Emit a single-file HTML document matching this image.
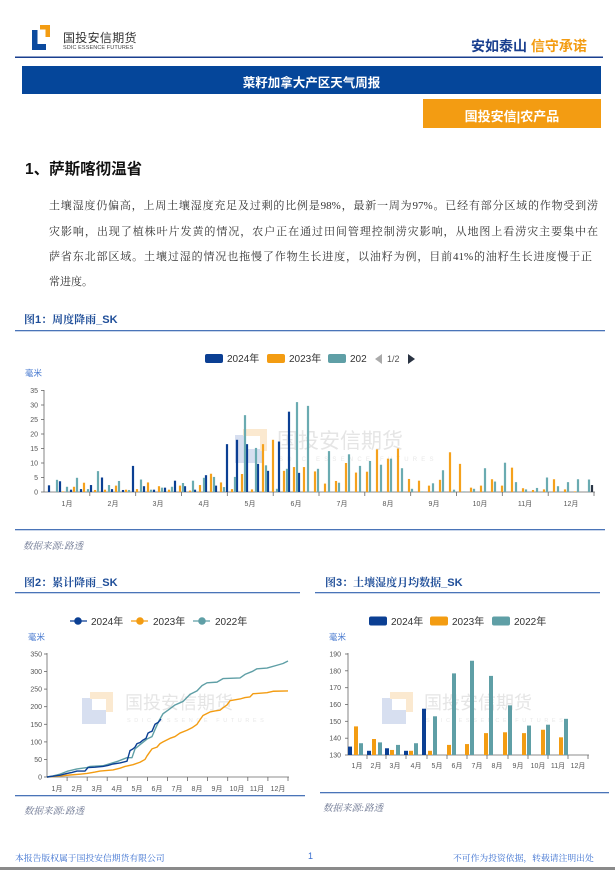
<!DOCTYPE html>
<html><head><meta charset="utf-8">
<style>
*{margin:0;padding:0;box-sizing:border-box}
html,body{width:615px;height:870px;background:#fff;overflow:hidden}
body{position:relative;font-family:"Liberation Sans","Noto Sans CJK SC",sans-serif}
.a{position:absolute;white-space:nowrap}
.p{position:absolute;left:49px;font-family:"Liberation Serif","Noto Serif CJK SC",serif;font-size:11px;color:#333;line-height:16px;white-space:nowrap}
.j{text-align:justify;text-align-last:justify}
</style></head><body>

<!-- header -->
<div class="a" style="left:63px;top:29px;font-size:12px;color:#333;letter-spacing:0.3px">国投安信期货</div>
<div class="a" style="left:63px;top:45px;font-size:5.5px;color:#444;letter-spacing:0.1px">SDIC ESSENCE FUTURES</div>
<div class="a" style="left:471px;top:36px;font-size:14px;font-weight:bold;color:#1a3f8f">安如泰山 <span style="color:#f39c12">信守承诺</span></div>
<div class="a" style="left:22px;top:66px;width:579px;height:28px;background:#05469a"></div>
<div class="a" style="left:22px;top:72px;width:579px;text-align:center;font-size:12.5px;font-weight:bold;color:#fff">菜籽加拿大产区天气周报</div>
<div class="a" style="left:423px;top:99px;width:178px;height:29px;background:#f39c12"></div>
<div class="a" style="left:423px;top:106px;width:178px;text-align:center;font-size:13px;font-weight:bold;color:#fff">国投安信|农产品</div>

<div class="a" style="left:25px;top:157px;font-size:15.5px;font-weight:bold;color:#111">1、萨斯喀彻温省</div>

<div class="p j" style="top:198px;width:549px">土壤湿度仍偏高，上周土壤湿度充足及过剩的比例是98%，最新一周为97%。已经有部分区域的作物受到涝</div>
<div class="p j" style="top:224px;width:549px">灾影响，出现了植株叶片发黄的情况，农户正在通过田间管理控制涝灾影响，从地图上看涝灾主要集中在</div>
<div class="p j" style="top:249px;width:543px">萨省东北部区域。土壤过湿的情况也拖慢了作物生长进度，以油籽为例，目前41%的油籽生长进度慢于正</div>
<div class="p" style="top:274px">常进度。</div>

<div class="a" style="left:24px;top:311px;font-size:11px;font-weight:bold;color:#1f4e99;font-family:'Liberation Sans','Noto Serif CJK SC',serif">图1：周度降雨_SK</div>
<div class="a" style="left:24px;top:574px;font-size:11px;font-weight:bold;color:#1f4e99;font-family:'Liberation Sans','Noto Serif CJK SC',serif">图2：累计降雨_SK</div>
<div class="a" style="left:325px;top:574px;font-size:11px;font-weight:bold;color:#1f4e99;font-family:'Liberation Sans','Noto Serif CJK SC',serif">图3：土壤湿度月均数据_SK</div>

<div class="a" style="left:23px;top:538px;font-size:9.5px;font-style:italic;color:#6a7490;font-family:'Liberation Serif','Noto Serif CJK SC',serif">数据来源:路透</div>
<div class="a" style="left:24px;top:803px;font-size:9.5px;font-style:italic;color:#6a7490;font-family:'Liberation Serif','Noto Serif CJK SC',serif">数据来源:路透</div>
<div class="a" style="left:323px;top:800px;font-size:9.5px;font-style:italic;color:#6a7490;font-family:'Liberation Serif','Noto Serif CJK SC',serif">数据来源:路透</div>

<div class="a" style="left:15px;top:851px;font-size:8.8px;color:#3a6fd0;font-family:'Liberation Serif','Noto Serif CJK SC',serif">本报告版权属于国投安信期货有限公司</div>
<div class="a" style="left:308px;top:851px;font-size:9px;color:#3a6fd0">1</div>
<div class="a" style="left:453px;top:851px;font-size:8.8px;color:#3a6fd0;font-family:'Liberation Serif','Noto Serif CJK SC',serif">不可作为投资依据，转载请注明出处</div>
<div class="a" style="left:0;top:867px;width:615px;height:3px;background:#8a8a8a"></div>

<svg class="a" style="left:0;top:0" width="615" height="870" viewBox="0 0 615 870" font-family="Liberation Sans, Noto Sans CJK SC, sans-serif">
<!-- logo -->
<rect x="32" y="30" width="5.5" height="20" fill="#0b4a9e"/>
<rect x="32" y="44" width="14" height="6" fill="#0b4a9e"/>
<rect x="40" y="25" width="10" height="4.5" fill="#f39c12"/>
<rect x="45.5" y="25" width="4.5" height="12" fill="#f39c12"/>
<!-- header line -->
<rect x="15" y="56.5" width="588" height="1.5" fill="#1a3f8f"/>
<!-- caption lines -->
<rect x="15" y="330" width="590" height="1.3" fill="#4a74b8"/>
<rect x="15" y="529" width="590" height="1.3" fill="#4a74b8"/>
<rect x="15" y="592" width="285" height="1.3" fill="#4a74b8"/>
<rect x="315" y="592" width="285" height="1.3" fill="#4a74b8"/>
<rect x="15" y="795" width="290" height="1.3" fill="#4a74b8"/>
<rect x="320" y="792" width="289" height="1.3" fill="#4a74b8"/>

<!-- watermarks -->
<g opacity="0.9">
<rect x="235" y="435" width="10" height="28" fill="#d3dcef"/><rect x="235" y="449" width="28" height="14" fill="#d3dcef"/>
<rect x="243" y="429" width="24" height="7" fill="#fbe7cc"/><rect x="260" y="429" width="7" height="22" fill="#fbe7cc"/>
<text x="277" y="448" font-size="21" fill="#e3e3e3">国投安信期货</text>
<text x="279" y="461" font-size="6" fill="#e6e6e6" letter-spacing="4.2">SDIC ESSENCE FUTURES</text>
<rect x="82" y="698" width="10" height="26" fill="#d3dcef"/><rect x="82" y="710" width="24" height="14" fill="#d3dcef"/>
<rect x="90" y="692" width="23" height="7" fill="#fbe7cc"/><rect x="106" y="692" width="7" height="20" fill="#fbe7cc"/>
<text x="125" y="709" font-size="18" fill="#e3e3e3">国投安信期货</text>
<text x="127" y="722" font-size="5.5" fill="#e6e6e6" letter-spacing="3.6">SDIC ESSENCE FUTURES</text>
<rect x="382" y="698" width="10" height="26" fill="#d3dcef"/><rect x="382" y="710" width="24" height="14" fill="#d3dcef"/>
<rect x="390" y="692" width="23" height="7" fill="#fbe7cc"/><rect x="406" y="692" width="7" height="20" fill="#fbe7cc"/>
<text x="424" y="709" font-size="18" fill="#e3e3e3">国投安信期货</text>
<text x="426" y="722" font-size="5.5" fill="#e6e6e6" letter-spacing="3.6">SDIC ESSENCE FUTURES</text>
</g>

<!-- ================= CHART 1 ================= -->
<rect x="205" y="354" width="18" height="9" rx="2" fill="#0b3f93"/>
<text x="227" y="362" font-size="10" fill="#333">2024年</text>
<rect x="267" y="354" width="18" height="9" rx="2" fill="#f39c12"/>
<text x="289" y="362" font-size="10" fill="#333">2023年</text>
<rect x="328" y="354" width="18" height="9" rx="2" fill="#5f9fa6"/>
<text x="350" y="362" font-size="10" fill="#333">202</text>
<polygon points="382,354 382,364 375,359" fill="#aaa"/>
<text x="387" y="362" font-size="9" fill="#555">1/2</text>
<polygon points="408,354 408,364 415,359" fill="#2a3342"/>
<text x="25" y="376" font-size="8.5" fill="#4a7bd0">毫米</text>
<g font-size="7" fill="#555" text-anchor="end">
<text x="38" y="494.5">0</text><text x="38" y="480">5</text><text x="38" y="465.5">10</text><text x="38" y="451">15</text>
<text x="38" y="436.5">20</text><text x="38" y="422">25</text><text x="38" y="407.5">30</text><text x="38" y="393">35</text>
</g>
<g stroke="#666" stroke-width="0.8">
<line x1="44" y1="390" x2="44" y2="492"/>
<line x1="44" y1="492" x2="595" y2="492"/>
<line x1="41" y1="492" x2="44" y2="492"/><line x1="41" y1="477.5" x2="44" y2="477.5"/><line x1="41" y1="463" x2="44" y2="463"/><line x1="41" y1="448.5" x2="44" y2="448.5"/>
<line x1="41" y1="434" x2="44" y2="434"/><line x1="41" y1="419.5" x2="44" y2="419.5"/><line x1="41" y1="405" x2="44" y2="405"/><line x1="41" y1="390.5" x2="44" y2="390.5"/>
<line x1="89.8" y1="492" x2="89.8" y2="496"/><line x1="135.7" y1="492" x2="135.7" y2="496"/><line x1="181.5" y1="492" x2="181.5" y2="496"/><line x1="227.3" y1="492" x2="227.3" y2="496"/>
<line x1="273.2" y1="492" x2="273.2" y2="496"/><line x1="319" y1="492" x2="319" y2="496"/><line x1="364.8" y1="492" x2="364.8" y2="496"/><line x1="410.7" y1="492" x2="410.7" y2="496"/>
<line x1="456.5" y1="492" x2="456.5" y2="496"/><line x1="502.3" y1="492" x2="502.3" y2="496"/><line x1="548.2" y1="492" x2="548.2" y2="496"/><line x1="594" y1="492" x2="594" y2="496"/>
</g>
<g font-size="7" fill="#555" text-anchor="middle">
<text x="67" y="506">1月</text><text x="113" y="506">2月</text><text x="158" y="506">3月</text><text x="204" y="506">4月</text>
<text x="250" y="506">5月</text><text x="296" y="506">6月</text><text x="342" y="506">7月</text><text x="388" y="506">8月</text>
<text x="434" y="506">9月</text><text x="480" y="506">10月</text><text x="525" y="506">11月</text><text x="571" y="506">12月</text>
</g>
<g transform="translate(0,492) scale(1,-2.9)">
<g fill="#0b3f93">
<rect x="47.9" width="2.2" height="2.3"/><rect x="58.9" width="2.2" height="3.7"/><rect x="69.9" width="2.2" height="0.8"/><rect x="79.9" width="2.2" height="1.0"/>
<rect x="89.9" width="2.2" height="2.4"/><rect x="100.9" width="2.2" height="5.0"/><rect x="110.9" width="2.2" height="1.0"/><rect x="121.9" width="2.2" height="0.7"/>
<rect x="131.9" width="2.2" height="9.0"/><rect x="142.9" width="2.2" height="2.0"/><rect x="152.9" width="2.2" height="0.8"/><rect x="163.9" width="2.2" height="1.5"/>
<rect x="173.9" width="2.2" height="3.9"/><rect x="183.9" width="2.2" height="2.0"/><rect x="193.9" width="2.2" height="0.8"/><rect x="204.9" width="2.2" height="5.8"/>
<rect x="214.9" width="2.2" height="2.2"/><rect x="225.9" width="2.2" height="16.5"/><rect x="235.9" width="2.2" height="18"/><rect x="245.9" width="2.2" height="16.5"/>
<rect x="256.9" width="2.2" height="9.7"/><rect x="266.9" width="2.2" height="7.3"/><rect x="277.9" width="2.2" height="17.4"/><rect x="287.9" width="2.2" height="27.7"/>
<rect x="297.9" width="2.2" height="6.6"/>
</g>
<g fill="#f5a11c">
<rect x="61.9" width="2.2" height="0.2"/><rect x="72.9" width="2.2" height="1.8"/><rect x="82.9" width="2.2" height="3.2"/><rect x="93.9" width="2.2" height="0.7"/>
<rect x="103.9" width="2.2" height="0.8"/><rect x="114.9" width="2.2" height="2.2"/><rect x="124.9" width="2.2" height="0.8"/><rect x="135.9" width="2.2" height="1.0"/>
<rect x="146.9" width="2.2" height="3.3"/><rect x="157.9" width="2.2" height="2.0"/><rect x="167.9" width="2.2" height="0.8"/><rect x="178.9" width="2.2" height="2.2"/>
<rect x="188.9" width="2.2" height="0.5"/><rect x="198.9" width="2.2" height="2.4"/><rect x="209.9" width="2.2" height="6.3"/><rect x="219.9" width="2.2" height="3.3"/>
<rect x="230.9" width="2.2" height="1.0"/><rect x="240.9" width="2.2" height="6.2"/><rect x="250.9" width="2.2" height="0.9"/><rect x="261.9" width="2.2" height="16.5"/>
<rect x="271.9" width="2.2" height="18"/><rect x="282.9" width="2.2" height="7.3"/><rect x="292.9" width="2.2" height="8.6"/><rect x="302.9" width="2.2" height="8.6"/>
<rect x="313.9" width="2.2" height="7.1"/><rect x="323.9" width="2.2" height="2.9"/><rect x="334.9" width="2.2" height="3.8"/><rect x="344.9" width="2.2" height="10"/>
<rect x="354.9" width="2.2" height="6.7"/><rect x="365.9" width="2.2" height="7"/><rect x="375.9" width="2.2" height="14.7"/><rect x="386.9" width="2.2" height="11.5"/>
<rect x="396.9" width="2.2" height="15"/><rect x="407.9" width="2.2" height="4.5"/><rect x="417.9" width="2.2" height="3.9"/><rect x="427.9" width="2.2" height="2.2"/>
<rect x="438.9" width="2.2" height="4.2"/><rect x="448.9" width="2.2" height="13.7"/><rect x="458.9" width="2.2" height="9.7"/><rect x="469.9" width="2.2" height="1.5"/>
<rect x="479.9" width="2.2" height="2.2"/><rect x="490.9" width="2.2" height="4.4"/><rect x="500.9" width="2.2" height="2.2"/><rect x="510.9" width="2.2" height="8.4"/>
<rect x="521.9" width="2.2" height="1.3"/><rect x="531.9" width="2.2" height="0.7"/><rect x="542.9" width="2.2" height="0.9"/><rect x="552.9" width="2.2" height="4.4"/>
<rect x="563.9" width="2.2" height="0.9"/><rect x="573.9" width="2.2" height="0.2"/>
</g>
<g fill="#6aabb1">
<rect x="55.9" width="2.2" height="4.2"/><rect x="65.9" width="2.2" height="1.8"/><rect x="75.9" width="2.2" height="4.9"/><rect x="86.9" width="2.2" height="1.0"/>
<rect x="96.9" width="2.2" height="7.2"/><rect x="107.9" width="2.2" height="2.4"/><rect x="117.9" width="2.2" height="3.8"/><rect x="127.9" width="2.2" height="0.7"/>
<rect x="139.9" width="2.2" height="4.3"/><rect x="149.9" width="2.2" height="0.8"/><rect x="160.9" width="2.2" height="1.5"/><rect x="170.9" width="2.2" height="1.8"/>
<rect x="181.9" width="2.2" height="3.1"/><rect x="191.9" width="2.2" height="3.9"/><rect x="202.9" width="2.2" height="4.9"/><rect x="212.9" width="2.2" height="5.2"/>
<rect x="222.9" width="2.2" height="1.7"/><rect x="233.9" width="2.2" height="5.2"/><rect x="243.9" width="2.2" height="26.5"/><rect x="254.9" width="2.2" height="15.2"/>
<rect x="264.9" width="2.2" height="9.2"/><rect x="275.9" width="2.2" height="1.1"/><rect x="285.9" width="2.2" height="8.0"/><rect x="295.9" width="2.2" height="31"/>
<rect x="306.9" width="2.2" height="29.7"/><rect x="316.9" width="2.2" height="8"/><rect x="327.9" width="2.2" height="14.1"/><rect x="337.9" width="2.2" height="3.2"/>
<rect x="347.9" width="2.2" height="13"/><rect x="358.9" width="2.2" height="9"/><rect x="368.9" width="2.2" height="10.7"/><rect x="379.9" width="2.2" height="9.4"/>
<rect x="389.9" width="2.2" height="11.5"/><rect x="400.9" width="2.2" height="8.2"/><rect x="410.9" width="2.2" height="1.1"/><rect x="420.9" width="2.2" height="0.2"/>
<rect x="431.9" width="2.2" height="3.0"/><rect x="441.9" width="2.2" height="7.5"/><rect x="452.9" width="2.2" height="0.8"/><rect x="462.9" width="2.2" height="0.2"/>
<rect x="472.9" width="2.2" height="1.1"/><rect x="483.9" width="2.2" height="8.2"/><rect x="493.9" width="2.2" height="3.6"/><rect x="503.9" width="2.2" height="10.1"/>
<rect x="514.9" width="2.2" height="3.4"/><rect x="524.9" width="2.2" height="0.9"/><rect x="535.9" width="2.2" height="1.4"/><rect x="545.9" width="2.2" height="5.0"/>
<rect x="556.9" width="2.2" height="2.0"/><rect x="566.9" width="2.2" height="3.4"/><rect x="576.9" width="2.2" height="4.4"/><rect x="587.9" width="2.2" height="4.3"/>
</g>
<rect x="590.9" width="2.2" height="2.4" fill="#2b3646"/>
</g>

<!-- ================= CHART 2 ================= -->
<line x1="70" y1="621" x2="87" y2="621" stroke="#0b3f93" stroke-width="1.3"/><circle cx="78" cy="621" r="3.8" fill="#0b3f93"/>
<text x="91" y="625" font-size="10" fill="#333">2024年</text>
<line x1="131" y1="621" x2="148" y2="621" stroke="#f39c12" stroke-width="1.3"/><circle cx="140" cy="621" r="3.8" fill="#f39c12"/>
<text x="153" y="625" font-size="10" fill="#333">2023年</text>
<line x1="193" y1="621" x2="210" y2="621" stroke="#5f9fa6" stroke-width="1.3"/><circle cx="202" cy="621" r="3.8" fill="#5f9fa6"/>
<text x="215" y="625" font-size="10" fill="#333">2022年</text>
<text x="28" y="640" font-size="8.5" fill="#4a7bd0">毫米</text>
<g font-size="7" fill="#555" text-anchor="end">
<text x="42" y="779.5">0</text><text x="42" y="762">50</text><text x="42" y="744.4">100</text><text x="42" y="726.8">150</text>
<text x="42" y="709.2">200</text><text x="42" y="691.7">250</text><text x="42" y="674.1">300</text><text x="42" y="656.5">350</text>
</g>
<g stroke="#666" stroke-width="0.8">
<line x1="47" y1="653" x2="47" y2="777"/><line x1="47" y1="777" x2="289" y2="777"/>
<line x1="44" y1="777" x2="47" y2="777"/><line x1="44" y1="759.4" x2="47" y2="759.4"/><line x1="44" y1="741.9" x2="47" y2="741.9"/><line x1="44" y1="724.3" x2="47" y2="724.3"/>
<line x1="44" y1="706.7" x2="47" y2="706.7"/><line x1="44" y1="689.1" x2="47" y2="689.1"/><line x1="44" y1="671.6" x2="47" y2="671.6"/><line x1="44" y1="654" x2="47" y2="654"/>
<line x1="67.1" y1="777" x2="67.1" y2="781"/><line x1="87.2" y1="777" x2="87.2" y2="781"/><line x1="107.2" y1="777" x2="107.2" y2="781"/><line x1="127.3" y1="777" x2="127.3" y2="781"/>
<line x1="147.4" y1="777" x2="147.4" y2="781"/><line x1="167.5" y1="777" x2="167.5" y2="781"/><line x1="187.6" y1="777" x2="187.6" y2="781"/><line x1="207.6" y1="777" x2="207.6" y2="781"/>
<line x1="227.7" y1="777" x2="227.7" y2="781"/><line x1="247.8" y1="777" x2="247.8" y2="781"/><line x1="267.9" y1="777" x2="267.9" y2="781"/><line x1="288" y1="777" x2="288" y2="781"/>
</g>
<g font-size="7" fill="#555" text-anchor="middle">
<text x="57" y="791">1月</text><text x="77" y="791">2月</text><text x="97" y="791">3月</text><text x="117" y="791">4月</text>
<text x="137" y="791">5月</text><text x="157" y="791">6月</text><text x="177" y="791">7月</text><text x="197" y="791">8月</text>
<text x="217" y="791">9月</text><text x="237" y="791">10月</text><text x="257" y="791">11月</text><text x="278" y="791">12月</text>
</g>
<g transform="translate(0,777) scale(1,-0.3514)" fill="none" stroke-width="1.4" stroke-linejoin="round">
<polyline vector-effect="non-scaling-stroke" stroke="#f39c12" points="47,0 60,3 67,5 80,8 87,10 95,14 100,17 113,20 120,25 125,30 133,35 140,42 145,50 147,60 150,72 152,80 157,85 160,95 163,100 170,110 175,115 180,125 187,133 192,140 197,150 200,163 203,175 210,185 215,188 220,190 223,197 227,205 230,217 240,222 245,226 250,228 253,237 267,240 273,244 288,245"/>
<polyline vector-effect="non-scaling-stroke" stroke="#5f9fa6" points="47,0 53,3 60,8 68,17 77,23 87,27 90,30 103,32 110,38 118,45 127,55 132,55 135,80 140,92 147,108 152,115 155,135 159,160 163,180 168,190 175,205 183,215 190,235 197,245 202,260 207,268 217,270 223,280 240,282 245,292 252,300 257,308 267,310 277,318 283,323 288,330"/>
<polyline vector-effect="non-scaling-stroke" stroke="#0b3f93" points="47,0 55,3 60,5 67,10 72,13 77,17 85,17 88,27 95,28 103,30 108,33 113,37 120,40 127,45 130,75 133,80 135,85 137,95 140,98 143,105 146,110 148,125 150,128 152,130 155,150 158,155 161,165"/>
</g>

<!-- ================= CHART 3 ================= -->
<rect x="369" y="616.5" width="18" height="9" rx="2" fill="#0b3f93"/>
<text x="391" y="625" font-size="10" fill="#333">2024年</text>
<rect x="430" y="616.5" width="18" height="9" rx="2" fill="#f39c12"/>
<text x="452" y="625" font-size="10" fill="#333">2023年</text>
<rect x="492" y="616.5" width="18" height="9" rx="2" fill="#5f9fa6"/>
<text x="514" y="625" font-size="10" fill="#333">2022年</text>
<text x="329" y="640" font-size="8.5" fill="#4a7bd0">毫米</text>
<g font-size="7" fill="#555" text-anchor="end">
<text x="341" y="757.5">130</text><text x="341" y="740.7">140</text><text x="341" y="723.8">150</text><text x="341" y="707">160</text>
<text x="341" y="690.2">170</text><text x="341" y="673.3">180</text><text x="341" y="656.5">190</text>
</g>
<g stroke="#666" stroke-width="0.8">
<line x1="348" y1="653" x2="348" y2="755"/><line x1="348" y1="755" x2="589" y2="755"/>
<line x1="345" y1="755" x2="348" y2="755"/><line x1="345" y1="738.2" x2="348" y2="738.2"/><line x1="345" y1="721.3" x2="348" y2="721.3"/><line x1="345" y1="704.5" x2="348" y2="704.5"/>
<line x1="345" y1="687.7" x2="348" y2="687.7"/><line x1="345" y1="670.8" x2="348" y2="670.8"/><line x1="345" y1="654" x2="348" y2="654"/>
<line x1="367" y1="755" x2="367" y2="759"/><line x1="386" y1="755" x2="386" y2="759"/><line x1="406" y1="755" x2="406" y2="759"/><line x1="427" y1="755" x2="427" y2="759"/>
<line x1="447" y1="755" x2="447" y2="759"/><line x1="467" y1="755" x2="467" y2="759"/><line x1="487" y1="755" x2="487" y2="759"/><line x1="508" y1="755" x2="508" y2="759"/>
<line x1="528" y1="755" x2="528" y2="759"/><line x1="548" y1="755" x2="548" y2="759"/><line x1="568" y1="755" x2="568" y2="759"/><line x1="588" y1="755" x2="588" y2="759"/>
</g>
<g font-size="7" fill="#555" text-anchor="middle">
<text x="357" y="768">1月</text><text x="376" y="768">2月</text><text x="395" y="768">3月</text><text x="416" y="768">4月</text>
<text x="437" y="768">5月</text><text x="457" y="768">6月</text><text x="477" y="768">7月</text><text x="497" y="768">8月</text>
<text x="518" y="768">9月</text><text x="538" y="768">10月</text><text x="558" y="768">11月</text><text x="578" y="768">12月</text>
</g>
<g transform="translate(0,755) scale(1,-1.683)">
<g fill="#0b3f93">
<rect x="348" width="4" height="5"/><rect x="367" width="4" height="2.5"/><rect x="385" width="4" height="4"/><rect x="404" width="4" height="2.5"/><rect x="422" width="4" height="27.5"/>
</g>
<g fill="#f39c12">
<rect x="354" width="4" height="17"/><rect x="372" width="4" height="9.5"/><rect x="390" width="4" height="3"/><rect x="409" width="4" height="2.5"/><rect x="428" width="4" height="2.5"/>
<rect x="447" width="4" height="6"/><rect x="465" width="4" height="6.5"/><rect x="484" width="4" height="13"/><rect x="503" width="4" height="13.5"/><rect x="522" width="4" height="13"/>
<rect x="541" width="4" height="15"/><rect x="559" width="4" height="10.5"/>
</g>
<g fill="#5f9fa6">
<rect x="359" width="4" height="7"/><rect x="378" width="4" height="7.5"/><rect x="396" width="4" height="6"/><rect x="414" width="4" height="7"/><rect x="433" width="4" height="23"/>
<rect x="452" width="4" height="48.5"/><rect x="470" width="4" height="56"/><rect x="489" width="4" height="47"/><rect x="508" width="4" height="29.5"/><rect x="527" width="4" height="17.5"/>
<rect x="546" width="4" height="18"/><rect x="564" width="4" height="21.5"/>
</g>
</g>
</svg>
</body></html>
